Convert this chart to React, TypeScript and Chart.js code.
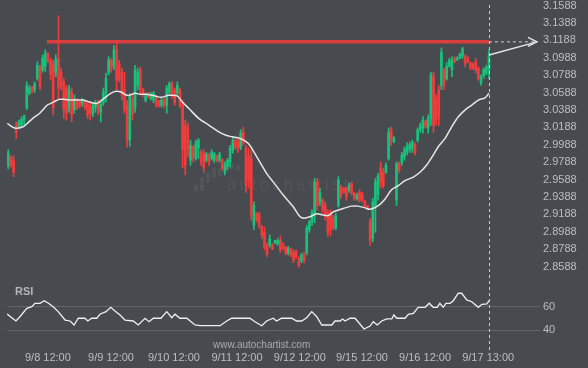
import React, { useEffect, useRef } from "react";
import { Chart, registerables } from "chart.js";
Chart.register(...registerables);

const opens = [
  2.974, 2.985, 2.981, 3.022, 3.019, 3.021, 3.027, 3.041, 3.058, 3.065,
  3.062, 3.075, 3.087, 3.085, 3.089, 3.103, 3.096, 3.092, 3.082, 3.098,
  3.082, 3.071, 3.064, 3.041, 3.059, 3.039, 3.050, 3.048, 3.046, 3.049,
  3.046, 3.043, 3.034, 3.041, 3.048, 3.036, 3.047, 3.059, 3.082, 3.096,
  3.089, 3.108, 3.092, 3.082, 3.062, 3.044, 3.004, 3.052, 3.041, 3.067,
  3.085, 3.063, 3.050, 3.058, 3.052, 3.050, 3.054, 3.049, 3.044, 3.051,
  3.044, 3.059, 3.069, 3.062, 3.058, 3.062, 3.046, 3.021, 3.018, 2.981,
  2.996, 2.983, 2.995, 2.990, 2.989, 2.981, 2.987, 2.983, 2.981, 2.986,
  2.981, 2.981, 2.967, 2.974, 2.979, 2.993, 3.004, 3.002, 2.996, 3.013,
  2.995, 2.987, 2.983, 2.906, 2.920, 2.919, 2.905, 2.898, 2.883, 2.883,
  2.883, 2.886, 2.885, 2.889, 2.885, 2.881, 2.874, 2.879, 2.875, 2.876,
  2.868, 2.865, 2.873, 2.875, 2.901, 2.910, 2.918, 2.956, 2.933, 2.935,
  2.929, 2.921, 2.920, 2.914, 2.903, 2.929, 2.950, 2.949, 2.949, 2.947,
  2.954, 2.943, 2.937, 2.944, 2.942, 2.934, 2.929, 2.910, 2.891, 2.929,
  2.941, 2.972, 2.967, 2.967, 2.983, 3.016, 3.002, 2.935, 2.977, 2.978,
  2.985, 2.990, 2.993, 2.995, 2.999, 3.004, 3.016, 3.018, 3.026, 3.018,
  3.029, 3.078, 3.052, 3.062, 3.067, 3.085, 3.075, 3.089, 3.085, 3.098,
  3.096, 3.098, 3.101, 3.101, 3.098, 3.093, 3.092, 3.094, 3.087, 3.070,
  3.078, 3.081, 3.085,
];
const highs = [
  2.993, 2.986, 2.986, 3.025, 3.027, 3.031, 3.033, 3.071, 3.067, 3.066,
  3.071, 3.094, 3.090, 3.102, 3.108, 3.105, 3.098, 3.096, 3.102, 3.147,
  3.087, 3.075, 3.067, 3.067, 3.064, 3.056, 3.052, 3.050, 3.052, 3.050,
  3.048, 3.047, 3.047, 3.050, 3.050, 3.048, 3.064, 3.081, 3.100, 3.098,
  3.113, 3.118, 3.096, 3.087, 3.082, 3.050, 3.058, 3.058, 3.090, 3.087,
  3.088, 3.064, 3.058, 3.059, 3.059, 3.060, 3.055, 3.050, 3.052, 3.052,
  3.067, 3.071, 3.071, 3.064, 3.071, 3.064, 3.050, 3.027, 3.024, 3.004,
  2.998, 3.004, 3.006, 2.993, 2.993, 2.990, 2.989, 2.993, 2.990, 2.987,
  2.990, 2.983, 2.979, 2.983, 2.998, 3.008, 3.006, 3.006, 3.016, 3.019,
  2.998, 2.995, 2.993, 2.933, 2.921, 2.921, 2.906, 2.904, 2.886, 2.895,
  2.885, 2.889, 2.891, 2.894, 2.886, 2.882, 2.882, 2.880, 2.878, 2.878,
  2.870, 2.874, 2.875, 2.906, 2.912, 2.924, 2.960, 2.960, 2.949, 2.937,
  2.933, 2.924, 2.924, 2.918, 2.920, 2.962, 2.952, 2.950, 2.950, 2.955,
  2.956, 2.944, 2.943, 2.947, 2.944, 2.935, 2.929, 2.914, 2.937, 2.960,
  2.966, 2.979, 2.972, 2.978, 3.018, 3.019, 3.008, 2.979, 2.979, 2.990,
  2.996, 3.001, 3.002, 3.004, 3.001, 3.018, 3.024, 3.031, 3.027, 3.033,
  3.082, 3.082, 3.056, 3.067, 3.110, 3.087, 3.093, 3.098, 3.100, 3.100,
  3.100, 3.104, 3.111, 3.102, 3.100, 3.094, 3.093, 3.098, 3.088, 3.079,
  3.087, 3.090, 3.108,
];
const lows = [
  2.971, 2.973, 2.962, 3.006, 3.018, 3.019, 3.022, 3.039, 3.056, 3.058,
  3.059, 3.073, 3.062, 3.082, 3.083, 3.093, 3.073, 3.033, 3.077, 3.050,
  3.062, 3.029, 3.027, 3.036, 3.025, 3.035, 3.039, 3.041, 3.043, 3.039,
  3.029, 3.027, 3.031, 3.036, 3.033, 3.025, 3.044, 3.048, 3.079, 3.082,
  3.085, 3.062, 3.071, 3.050, 3.035, 2.996, 2.997, 3.027, 3.036, 3.062,
  3.056, 3.054, 3.048, 3.052, 3.050, 3.047, 3.042, 3.042, 3.042, 3.041,
  3.035, 3.056, 3.052, 3.044, 3.056, 3.041, 2.972, 2.964, 2.985, 2.975,
  2.979, 2.981, 2.983, 2.975, 2.967, 2.979, 2.975, 2.981, 2.978, 2.979,
  2.979, 2.970, 2.964, 2.970, 2.973, 2.989, 2.993, 2.990, 2.993, 2.998,
  2.944, 2.949, 2.912, 2.901, 2.910, 2.903, 2.891, 2.878, 2.870, 2.881,
  2.878, 2.885, 2.883, 2.875, 2.878, 2.872, 2.872, 2.870, 2.863, 2.868,
  2.858, 2.863, 2.863, 2.872, 2.898, 2.906, 2.909, 2.924, 2.929, 2.920,
  2.912, 2.893, 2.894, 2.901, 2.901, 2.927, 2.937, 2.943, 2.935, 2.944,
  2.941, 2.935, 2.935, 2.933, 2.933, 2.927, 2.924, 2.883, 2.887, 2.898,
  2.935, 2.949, 2.949, 2.966, 2.981, 2.998, 3.001, 2.929, 2.967, 2.975,
  2.981, 2.987, 2.990, 2.990, 2.987, 3.002, 3.013, 3.012, 3.018, 3.012,
  3.021, 3.013, 3.021, 3.021, 3.062, 3.062, 3.073, 3.088, 3.077, 3.093,
  3.096, 3.098, 3.098, 3.088, 3.093, 3.085, 3.085, 3.081, 3.073, 3.067,
  3.075, 3.079, 3.075,
];
const closes = [
  2.989, 2.975, 2.967, 3.013, 3.025, 3.028, 3.032, 3.066, 3.064, 3.060,
  3.069, 3.090, 3.066, 3.098, 3.104, 3.096, 3.079, 3.041, 3.097, 3.064,
  3.066, 3.039, 3.036, 3.062, 3.033, 3.052, 3.042, 3.043, 3.050, 3.042,
  3.033, 3.035, 3.044, 3.047, 3.039, 3.046, 3.059, 3.075, 3.096, 3.087,
  3.108, 3.073, 3.075, 3.056, 3.039, 3.004, 3.055, 3.033, 3.085, 3.082,
  3.062, 3.056, 3.056, 3.054, 3.057, 3.058, 3.044, 3.043, 3.050, 3.044,
  3.064, 3.069, 3.056, 3.047, 3.067, 3.044, 2.993, 2.975, 2.993, 2.998,
  2.983, 3.001, 3.004, 2.979, 2.972, 2.988, 2.979, 2.990, 2.988, 2.981,
  2.988, 2.972, 2.975, 2.981, 2.995, 3.004, 2.996, 2.995, 3.012, 3.001,
  2.952, 2.958, 2.918, 2.929, 2.912, 2.906, 2.895, 2.881, 2.873, 2.891,
  2.879, 2.889, 2.889, 2.878, 2.880, 2.874, 2.880, 2.872, 2.866, 2.870,
  2.860, 2.872, 2.866, 2.903, 2.910, 2.921, 2.956, 2.929, 2.944, 2.924,
  2.916, 2.898, 2.901, 2.903, 2.917, 2.958, 2.941, 2.944, 2.939, 2.952,
  2.944, 2.937, 2.941, 2.935, 2.935, 2.929, 2.925, 2.889, 2.933, 2.956,
  2.963, 2.956, 2.952, 2.975, 3.013, 3.004, 3.006, 2.977, 2.970, 2.987,
  2.993, 2.997, 2.999, 3.002, 2.989, 3.016, 3.021, 3.027, 3.020, 3.029,
  3.079, 3.021, 3.027, 3.029, 3.105, 3.067, 3.089, 3.096, 3.096, 3.094,
  3.098, 3.103, 3.109, 3.092, 3.094, 3.087, 3.087, 3.085, 3.075, 3.077,
  3.085, 3.088, 3.102,
];

const maIdx = [
  -0.4, 2.5, 5.4, 7.2, 9.4, 12, 14.8, 16.1, 17.3, 19.2, 21.1, 23.6, 28.3, 31.2, 33.6, 36.2,
  38.8, 40.8, 42.7, 44.6, 45.7, 48.1, 50, 52.4, 55.7, 57.9, 60.7, 63.9, 65.8, 68.3, 72.1, 75.9,
  79.7, 82.2, 84.7, 87.7, 90.9, 94.1, 97.8, 100.3, 104.1, 107.9, 110.5, 112, 114.2, 116.8, 119.3,
  121.2, 123.1, 126.9, 130, 132.5, 135.1, 137, 140.1, 142.6, 145.2, 147.7, 150.2, 153.4, 156.1,
  158.4, 160.9, 162.8, 165.4, 167.9, 170.4, 172.9, 175.5, 178, 180.5, 182,
];
const maVal = [
  3.0233, 3.0179, 3.0191, 3.0233, 3.0294, 3.0352, 3.0444, 3.0463, 3.0481, 3.0509, 3.0509, 3.0501,
  3.0501, 3.0475, 3.0463, 3.0521, 3.0578, 3.0601, 3.0593, 3.0559, 3.0555, 3.0578, 3.0567, 3.0567,
  3.0547, 3.0532, 3.0555, 3.055, 3.0481, 3.0406, 3.0291, 3.0214, 3.0136, 3.0099, 3.0079, 3.0061,
  3.0003, 2.9849, 2.9658, 2.9561, 2.9409, 2.9274, 2.9159, 2.9144, 2.9159, 2.9194, 2.9179, 2.9173,
  2.9217, 2.9255, 2.9282, 2.9282, 2.9262, 2.9245, 2.9288, 2.9362, 2.9472, 2.9518, 2.9575, 2.9616,
  2.9677, 2.9754, 2.9868, 2.9964, 3.0061, 3.0194, 3.0309, 3.0386, 3.0444, 3.0501, 3.0527, 3.0578,
];

const rsiIdx = [
  -0.4, 1.3, 2.9, 4.4, 7, 8.9, 10.1, 12, 13.6, 15.2, 17, 18.9, 21.5, 23.4, 24.9, 26.5, 29, 30.1,
  31.6, 33.5, 34.7, 37, 38.8, 40.4, 42.3, 44.2, 47.3, 49.2, 51.8, 53.3, 54.9, 57.8, 60, 61.9, 63.1,
  65, 67.6, 70.7, 72.6, 80.2, 82.7, 84.6, 91.5, 93.4, 96, 97.8, 100.3, 101.6, 103.5, 107.3, 109.2,
  111.1, 113, 114.9, 116.8, 118.7, 122.5, 123.7, 125.6, 126.6, 127.5, 129.4, 131.3, 134.7, 137,
  138.2, 139.7, 141.4, 143.3, 145.2, 146, 147.1, 150.2, 151.5, 153.4, 155.2, 157.8, 159.4, 160.9,
  162.4, 163.4, 164.7, 165.7, 167.3, 168.5, 170.4, 171.7, 173.6, 175.5, 178, 179.3, 181.2, 182,
];
const rsiVal = [
  53.8, 50.7, 47.9, 51.5, 58.6, 60, 62.9, 62.9, 65.1, 62.9, 60, 55.8, 48.7, 47.9, 44.5, 50.2, 50.2,
  47.9, 50.2, 50.2, 53.6, 55.8, 59.5, 56.4, 53, 48.7, 47.9, 44.5, 50.2, 47.3, 50.2, 50.2, 55.8, 50.7,
  53.6, 50.2, 50.2, 44.5, 43.9, 43.9, 47.9, 50.2, 50.2, 47.3, 43.9, 47.9, 50.2, 47.9, 50.2, 50.2,
  47.9, 47.9, 50.7, 55.8, 51.5, 44.5, 44.5, 47.9, 47.9, 49.6, 47.9, 50.2, 50.2, 41.1, 43.6, 47.3,
  44.5, 47.9, 49.6, 49.6, 53, 50.2, 50.2, 53.6, 54.4, 59.5, 59.5, 62.9, 59.5, 59.5, 62.9, 59.5, 62.9,
  62.9, 65.1, 71.4, 71.4, 65.7, 64.2, 59.5, 62, 62.3, 65.1,
];

const priceTicks = [
  3.1588, 3.1388, 3.1188, 3.0988, 3.0788, 3.0588, 3.0388, 3.0188,
  2.9988, 2.9788, 2.9588, 2.9388, 2.9188, 2.8988, 2.8788, 2.8588,
];
const rsiTicks = [60, 40];
const tickIdx = [15, 38.9, 62.7, 86.6, 110.4, 133.9, 157.8, 181.7];
const tickLabels = [
  "9/8 12:00", "9/9 12:00", "9/10 12:00", "9/11 12:00",
  "9/12 12:00", "9/15 12:00", "9/16 12:00", "9/17 13:00",
];
const resistanceLevel = 3.117;
const resistanceStartIdx = 14.6;
const lastIdx = 182;
const arrowEndIdx = 200.2;
const arrowStartPrice = 3.1018;

const BG = "#474a4f";
const GREEN = "#17c27c";
const RED = "#f23c3c";
const TXT = "#bdbec0";
const FONT = "'Liberation Sans', Arial, sans-serif";

export default function App() {
  const ref = useRef<HTMLCanvasElement>(null);

  useEffect(() => {
    const canvas = ref.current;
    if (!canvas) return;
    const colors = opens.map((o, i) => (closes[i] >= o ? GREEN : RED));

    const overlay = {
      id: "overlay",
      beforeDatasetsDraw(chart: any) {
        const ctx = chart.ctx;
        ctx.save();
        ctx.fillStyle = "rgba(255,255,255,0.06)";
        const bars = [
          [194, 184, 191], [200, 177, 191], [206, 172, 183], [212, 167, 178],
          [218, 168, 176], [224, 165, 172], [230, 163, 170], [236, 165, 171],
        ];
        for (const [bx, t, b] of bars) {
          ctx.beginPath();
          ctx.roundRect(bx, t, 4, b - t, 1.5);
          ctx.fill();
        }
        ctx.font = `17px ${FONT}`;
        ctx.textBaseline = "alphabetic";
        let cx = 227;
        for (const ch of "autochartist") {
          ctx.fillText(ch, cx, 190);
          cx += ctx.measureText(ch).width + 3;
        }
        ctx.restore();
      },
      afterDatasetsDraw(chart: any) {
        const ctx = chart.ctx;
        const xs = chart.scales.x;
        const ys = chart.scales.y;
        ctx.save();
        const xl = Math.round(xs.getPixelForValue(lastIdx)) + 0.5;
        ctx.strokeStyle = "#c9cacc";
        ctx.lineWidth = 1;
        ctx.setLineDash([3, 3]);
        ctx.beginPath();
        ctx.moveTo(xl, 5);
        ctx.lineTo(xl, 350);
        ctx.stroke();
        ctx.setLineDash([]);
        const tx = xs.getPixelForValue(arrowEndIdx);
        const ty = ys.getPixelForValue(resistanceLevel);
        ctx.strokeStyle = "#e4e4e4";
        ctx.lineWidth = 1.3;
        ctx.beginPath();
        ctx.moveTo(tx - 9, ty - 4.5);
        ctx.lineTo(tx, ty);
        ctx.lineTo(tx - 9, ty + 4.5);
        ctx.stroke();
        ctx.fillStyle = "#b3b5b8";
        ctx.font = `bold 11px ${FONT}`;
        ctx.textBaseline = "alphabetic";
        ctx.fillText("RSI", 15, 295);
        ctx.fillStyle = "#a9abae";
        ctx.font = `10px ${FONT}`;
        ctx.fillText("www.autochartist.com", 213, 348);
        ctx.restore();
      },
    };

    const fitY = (s: any) => {
      s.width = 48;
      s.paddingTop = 0;
      s.paddingBottom = 0;
    };

    const chart = new Chart(canvas, {
      type: "bar",
      data: {
        datasets: [
          {
            type: "line",
            data: [
              { x: lastIdx, y: resistanceLevel },
              { x: arrowEndIdx, y: resistanceLevel },
            ],
            borderColor: "#cfd0d2",
            borderWidth: 1,
            borderDash: [3, 3],
            pointRadius: 0,
            yAxisID: "y",
            order: 1,
          } as any,
          {
            type: "line",
            data: [
              { x: lastIdx, y: arrowStartPrice },
              { x: arrowEndIdx, y: resistanceLevel },
            ],
            borderColor: "#e4e4e4",
            borderWidth: 1.5,
            pointRadius: 0,
            yAxisID: "y",
            order: 1,
          },
          {
            type: "line",
            data: [
              { x: resistanceStartIdx, y: resistanceLevel },
              { x: lastIdx, y: resistanceLevel },
            ],
            borderColor: "rgba(226,62,62,0.95)",
            borderWidth: 3.5,
            pointRadius: 0,
            yAxisID: "y",
            order: 2,
          },
          {
            type: "line",
            data: maIdx.map((x, i) => ({ x, y: maVal[i] })),
            borderColor: "#e6e6e6",
            borderWidth: 1.5,
            pointRadius: 0,
            tension: 0.3,
            yAxisID: "y",
            order: 3,
          },
          {
            type: "line",
            data: rsiIdx.map((x, i) => ({ x, y: rsiVal[i] })),
            borderColor: "#f0f0f0",
            borderWidth: 1.3,
            pointRadius: 0,
            yAxisID: "rsi",
            order: 3,
          },
          {
            type: "bar",
            data: opens.map((o, i) => ({ x: i, y: [o, closes[i]] })) as any,
            backgroundColor: colors,
            barThickness: 2,
            minBarLength: 1,
            grouped: false,
            yAxisID: "y",
            order: 4,
          },
          {
            type: "bar",
            data: lows.map((l, i) => ({ x: i, y: [l, highs[i]] })) as any,
            backgroundColor: colors,
            barThickness: 1,
            grouped: false,
            yAxisID: "y",
            order: 5,
          },
        ],
      },
      options: {
        animation: false,
        responsive: false,
        devicePixelRatio: 1,
        events: [],
        layout: { padding: { left: 7, right: 0, top: 0, bottom: 0 } },
        plugins: { legend: { display: false }, tooltip: { enabled: false } },
        scales: {
          x: {
            type: "linear",
            min: -0.49,
            max: 201.33,
            offset: false,
            grid: { display: false, drawTicks: false },
            border: { display: false },
            ticks: {
              autoSkip: false,
              maxRotation: 0,
              padding: 3,
              color: TXT,
              font: { size: 11, family: FONT },
              callback: (_v: any, i: number) => tickLabels[i] ?? "",
            },
            afterBuildTicks: (s: any) => {
              s.ticks = tickIdx.map((v) => ({ value: v }));
            },
            afterFit: (s: any) => {
              s.height = 20;
              s.paddingLeft = 0;
              s.paddingRight = 0;
            },
          },
          y: {
            type: "linear",
            position: "right",
            stack: "panes",
            stackWeight: 280,
            min: 2.84328,
            max: 3.16512,
            grid: { display: false, drawTicks: false },
            border: { display: false },
            ticks: {
              autoSkip: false,
              padding: 3,
              color: TXT,
              font: { size: 11, family: FONT },
              callback: (v: any) => Number(v).toFixed(4),
            },
            afterBuildTicks: (s: any) => {
              s.ticks = priceTicks.map((v) => ({ value: v }));
            },
            afterFit: fitY,
          },
          rsi: {
            type: "linear",
            position: "right",
            stack: "panes",
            stackWeight: 68,
            min: 25,
            max: 82.63,
            grid: { color: "#62666c", drawTicks: false, lineWidth: 1 },
            border: { display: false },
            ticks: {
              autoSkip: false,
              padding: 3,
              color: TXT,
              font: { size: 11, family: FONT },
              callback: (v: any) => String(v),
            },
            afterBuildTicks: (s: any) => {
              s.ticks = rsiTicks.map((v) => ({ value: v }));
            },
            afterFit: fitY,
          },
        },
      } as any,
      plugins: [overlay],
    });
    return () => chart.destroy();
  }, []);

  return (
    <div style={{ position: "absolute", left: 0, top: 0, width: 588, height: 368, background: BG }}>
      <canvas ref={ref} width={588} height={368} style={{ display: "block" }} />
    </div>
  );
}
